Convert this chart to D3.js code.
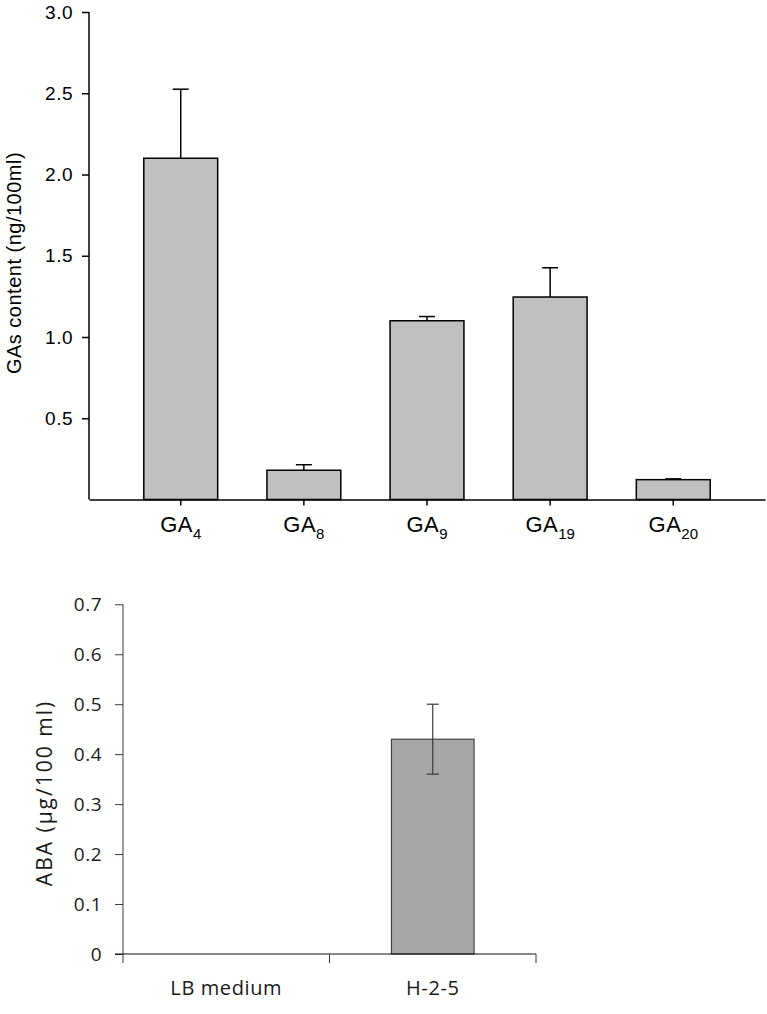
<!DOCTYPE html>
<html>
<head>
<meta charset="utf-8">
<script src="https://cdn.jsdelivr.net/npm/d3@7"></script>
<style>
  body { margin: 0; background: #fff; }
  svg { display: block; }
</style>
</head>
<body>
<div class="fig"></div>
<script>
// top panel: GAs
const gaNames = ['GA', 'GA', 'GA', 'GA', 'GA']
const gaSubs = ['4', '8', '9', '19', '20']
const gaValues = [2.10, 0.18, 1.10, 1.246, 0.122]
const gaErrors = [0.425, 0.034, 0.026, 0.18, 0.005]
const gaTicks = [0.5, 1.0, 1.5, 2.0, 2.5, 3.0]

// bottom panel: ABA
const abaNames = ['LB medium', 'H-2-5']
const abaValues = [0, 0.43]
const abaErrors = [0, 0.07]
const abaTicks = [0, 0.1, 0.2, 0.3, 0.4, 0.5, 0.6, 0.7]

const width = 767,
    height = 1014

const svg = d3.select('.fig').append('svg')
    .attr('width', width)
    .attr('height', height)

svg.append('rect')
    .attr('width', width)
    .attr('height', height)
    .style('fill', 'white')

// ---------- top chart ----------
const topG = svg.append('g').attr('class', 'topChart')
const topFont = '"Liberation Sans", Arial, sans-serif'

const x1 = d3.scaleBand()
    .domain(gaSubs)
    .range([89, 765])
    .paddingInner(0.4)
    .paddingOuter(0.445)

const y1 = d3.scaleLinear()
    .domain([0, 3])
    .range([499.5, 12])

// bars
topG.selectAll('.bar')
    .data(gaValues)
    .enter().append('rect')
    .attr('class', 'bar')
    .attr('x', (d, i) => x1(gaSubs[i]))
    .attr('width', x1.bandwidth())
    .attr('y', d => y1(d))
    .attr('height', d => y1(0) - y1(d))
    .style('fill', '#c0c0c0')
    .style('stroke', '#000')
    .style('stroke-width', 1.5)

// error bars (upper only)
const err1 = topG.selectAll('.err')
    .data(gaValues)
    .enter().append('g')
    .attr('class', 'err')
    .attr('transform', (d, i) => 'translate(' + (x1(gaSubs[i]) + x1.bandwidth() / 2) + ',0)')
err1.append('line')
    .attr('x1', 0).attr('x2', 0)
    .attr('y1', d => y1(d))
    .attr('y2', (d, i) => y1(d + gaErrors[i]))
    .style('stroke', '#000')
    .style('stroke-width', 1.5)
err1.append('line')
    .attr('x1', -8).attr('x2', 8)
    .attr('y1', (d, i) => y1(d + gaErrors[i]))
    .attr('y2', (d, i) => y1(d + gaErrors[i]))
    .style('stroke', '#000')
    .style('stroke-width', 1.5)

// y axis
const yAxis1 = topG.append('g')
    .attr('transform', 'translate(89,0)')
    .call(d3.axisLeft(y1).tickValues(gaTicks).tickFormat(d3.format('.1f')).tickSizeOuter(0).tickSize(7).tickPadding(9))
yAxis1.select('.domain').attr('d', 'M0,' + y1(3) + 'V' + y1(0)).style('stroke-width', 1.5)
yAxis1.selectAll('line').style('stroke-width', 1.5)
yAxis1.selectAll('text')
    .style('font-family', topFont)
    .style('font-size', '19px')
    .style('letter-spacing', '0.5px')
    .style('fill', '#000')

// x axis
const xAxis1 = topG.append('g')
    .attr('transform', 'translate(0,' + y1(0) + ')')
    .call(d3.axisBottom(x1).tickSize(6).tickSizeOuter(0).tickFormat(''))
xAxis1.select('.domain').style('stroke-width', 1.5)
xAxis1.selectAll('line').style('stroke-width', 1.5)

const xl = topG.selectAll('.xlab')
    .data(gaSubs)
    .enter().append('text')
    .attr('class', 'xlab')
    .attr('x', d => x1(d) + x1.bandwidth() / 2)
    .attr('y', 532)
    .style('text-anchor', 'middle')
    .style('font-family', topFont)
    .style('font-size', '22px')
    .style('letter-spacing', '0.5px')
    .style('fill', '#000')
xl.append('tspan').text((d, i) => gaNames[i])
xl.append('tspan')
    .attr('dy', 7)
    .style('font-size', '15px')
    .style('letter-spacing', '0px')
    .text(d => d)

topG.append('text')
    .attr('transform', 'translate(21,263) rotate(-90)')
    .style('text-anchor', 'middle')
    .style('font-family', topFont)
    .style('font-size', '20px')
    .style('letter-spacing', '0.5px')
    .style('fill', '#000')
    .text('GAs content (ng/100ml)')

// ---------- bottom chart ----------
const bot = svg.append('g').attr('class', 'bottomChart')
const botFont = '"Open Sans", "Noto Sans", sans-serif'
const axisColor = '#3a3a3a'

const x2 = d3.scaleBand()
    .domain(abaNames)
    .range([123, 536])
    .padding(0)

const y2 = d3.scaleLinear()
    .domain([0, 0.7])
    .range([954, 604.3])

const bw2 = x2.bandwidth() * 0.4

bot.selectAll('.bar')
    .data(abaValues)
    .enter().append('rect')
    .attr('class', 'bar')
    .attr('x', (d, i) => x2(abaNames[i]) + (x2.bandwidth() - bw2) / 2)
    .attr('width', bw2)
    .attr('y', d => y2(d))
    .attr('height', d => y2(0) - y2(d))
    .style('fill', '#a6a6a6')
    .style('stroke', '#444')
    .style('stroke-width', 1.2)
    .style('display', d => d === 0 ? 'none' : null)

const err2 = bot.selectAll('.err')
    .data(abaValues)
    .enter().append('g')
    .attr('class', 'err')
    .style('display', (d, i) => abaErrors[i] === 0 ? 'none' : null)
    .attr('transform', (d, i) => 'translate(' + (x2(abaNames[i]) + x2.bandwidth() / 2) + ',0)')
err2.append('line')
    .attr('x1', 0).attr('x2', 0)
    .attr('y1', (d, i) => y2(d - abaErrors[i]))
    .attr('y2', (d, i) => y2(d + abaErrors[i]))
    .style('stroke', axisColor)
    .style('stroke-width', 1.2)
err2.selectAll('.cap')
    .data((d, i) => [d - abaErrors[i], d + abaErrors[i]])
    .enter().append('line')
    .attr('class', 'cap')
    .attr('x1', -6).attr('x2', 6)
    .attr('y1', d => y2(d))
    .attr('y2', d => y2(d))
    .style('stroke', axisColor)
    .style('stroke-width', 1.2)

// y axis
const yAxis2 = bot.append('g')
    .attr('transform', 'translate(123,0)')
    .call(d3.axisLeft(y2).tickValues(abaTicks).tickFormat(d => d === 0 ? '0' : d3.format('.1f')(d)).tickSizeOuter(0).tickSize(8).tickPadding(13))
yAxis2.select('.domain').attr('d', 'M0,' + y2(0.7) + 'V' + (y2(0) + 9)).style('stroke', axisColor)
yAxis2.selectAll('line').style('stroke', axisColor)
yAxis2.selectAll('text')
    .style('font-family', botFont)
    .style('font-size', '19px')
    .style('letter-spacing', '0.5px')
    .style('fill', '#1a1a1a')

// x axis: ticks on category boundaries
const bounds = abaNames.map(d => x2(d)).concat([x2.range()[1]])
bot.append('line')
    .attr('x1', 115).attr('x2', x2.range()[1])
    .attr('y1', y2(0)).attr('y2', y2(0))
    .style('stroke', '#111')
    .style('stroke-width', 1.2)
bot.selectAll('.xtick')
    .data(bounds.slice(1))
    .enter().append('line')
    .attr('class', 'xtick')
    .attr('x1', d => d).attr('x2', d => d)
    .attr('y1', y2(0)).attr('y2', y2(0) + 9)
    .style('stroke', axisColor)

bot.selectAll('.xlab')
    .data(abaNames)
    .enter().append('text')
    .attr('class', 'xlab')
    .attr('x', d => x2(d) + x2.bandwidth() / 2)
    .attr('y', 995)
    .style('text-anchor', 'middle')
    .style('font-family', botFont)
    .style('font-size', '20px')
    .style('letter-spacing', '0.6px')
    .style('fill', '#1a1a1a')
    .text(d => d)

bot.append('text')
    .attr('transform', 'translate(52,793) rotate(-90)')
    .style('text-anchor', 'middle')
    .style('font-family', botFont)
    .style('font-size', '21px')
    .style('letter-spacing', '2px')
    .style('fill', '#1a1a1a')
    .text('ABA (µg/100 ml)')
</script>
</body>
</html>
